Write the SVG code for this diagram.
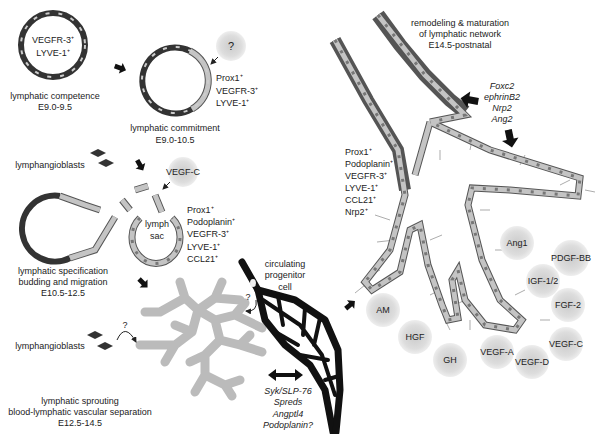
<svg xmlns="http://www.w3.org/2000/svg" xmlns:xlink="http://www.w3.org/1999/xlink" width="600" height="434" viewBox="0 0 600 434">
<style>
text{font-family:"Liberation Sans",Arial,sans-serif;font-size:9px;fill:#222}
.c{text-anchor:middle}
.i{font-style:italic}
.dk{fill:none;stroke:#333;stroke-width:6}
.dkd{fill:none;stroke:#ccc;stroke-width:2;stroke-dasharray:4 9}
.lt{fill:none;stroke:#555;stroke-width:7}
.lti{fill:none;stroke:#c4c4c4;stroke-width:5}
.ltd{fill:none;stroke:#777;stroke-width:3;stroke-dasharray:3 9}
.gr{fill:none;stroke:#bbb;stroke-width:9;stroke-linecap:round;stroke-linejoin:round}
.bk{fill:none;stroke:#111;stroke-width:7;stroke-linecap:round;stroke-linejoin:round}
.bk2{fill:none;stroke:#111;stroke-width:4;stroke-linecap:round;stroke-linejoin:round}
.hair{fill:none;stroke:#888;stroke-width:0.7}
.thin{fill:none;stroke:#222;stroke-width:1}
</style>
<defs>
<radialGradient id="g"><stop offset="0" stop-color="#ccc"/><stop offset="0.7" stop-color="#ddd"/><stop offset="1" stop-color="#eee"/></radialGradient>
<path id="arr" d="M-7,-3 L1,-3 L1,-7 L8,0 L1,7 L1,3 L-7,3 Z" fill="#111"/>
<path id="dia" d="M-8,0 L0,-4 L8,0 L0,4 Z" fill="#333"/>
<marker id="ah" markerWidth="6" markerHeight="6" refX="5" refY="3" orient="auto"><path d="M0,0 L6,3 L0,6 Z" fill="#222"/></marker>
</defs>
<rect width="600" height="434" fill="#fff"/>

<g id="competence">
<circle cx="53" cy="45" r="32" class="dk"/>
<circle cx="53" cy="45" r="32" class="dkd"/>
<text x="53" y="43" class="c">VEGFR-3⁺</text>
<text x="53" y="56" class="c">LYVE-1⁺</text>
<text x="55" y="99" class="c">lymphatic competence</text>
<text x="55" y="110" class="c">E9.0-9.5</text>
</g>
<use href="#arr" transform="translate(120,68) rotate(20) scale(0.8)"/>

<g id="commitment">
<path d="M190,51 A33,33 0 1 0 192,109" class="dk"/>
<path d="M190,51 A33,33 0 0 1 192,109" class="lt"/>
<path d="M190,51 A33,33 0 0 1 192,109" class="lti"/>
<circle cx="175" cy="80" r="33" class="dkd"/>
<circle cx="231" cy="46" r="15" fill="url(#g)"/>
<text x="231" y="50" class="c" style="font-size:11px">?</text>
<line x1="218" y1="57" x2="211" y2="64" class="thin" marker-end="url(#ah)"/>
<text x="216" y="81">Prox1⁺</text>
<text x="216" y="94">VEGFR-3⁺</text>
<text x="216" y="106">LYVE-1⁺</text>
<text x="175" y="131" class="c">lymphatic commitment</text>
<text x="175" y="143" class="c">E9.0-10.5</text>
</g>

<g id="specification">
<text x="50" y="168" class="c">lymphangioblasts</text>
<use href="#dia" transform="translate(98,153)"/>
<use href="#dia" transform="translate(106,163)"/>
<use href="#arr" transform="translate(140,165) rotate(60) scale(0.8)"/>
<circle cx="183" cy="172" r="15" fill="url(#g)"/>
<text x="183" y="175" class="c">VEGF-C</text>
<line x1="170" y1="182" x2="163" y2="189" class="thin" marker-end="url(#ah)"/>
<path d="M60,196 A33,33 0 1 0 70,258" class="dk"/>
<path d="M60,196 L85,205 L100,210" class="lt"/><path d="M60,196 L85,205 L100,210" class="lti"/>
<path d="M70,258 L95,250 L115,217" class="lt"/><path d="M70,258 L95,250 L115,217" class="lti"/>
<path d="M135,190 L148,186 M122,200 L130,210 M155,195 L162,212" class="lt"/>
<path d="M135,190 L148,186 M122,200 L130,210 M155,195 L162,212" class="lti"/>
<path d="M140,218 A24,26 0 1 0 172,218" class="lt"/>
<path d="M140,218 A24,26 0 1 0 172,218" class="lti"/>
<path d="M140,218 A24,26 0 1 0 172,218" class="ltd"/>
<text x="157" y="227" class="c">lymph</text>
<text x="157" y="239" class="c">sac</text>
<text x="187" y="213">Prox1⁺</text>
<text x="187" y="225">Podoplanin⁺</text>
<text x="187" y="237">VEGFR-3⁺</text>
<text x="187" y="250">LYVE-1⁺</text>
<text x="187" y="262">CCL21⁺</text>
<text x="63" y="274" class="c">lymphatic specification</text>
<text x="63" y="285" class="c">budding and migration</text>
<text x="63" y="296" class="c">E10.5-12.5</text>
<use href="#arr" transform="translate(143,283) rotate(45) scale(0.8)"/>
</g>

<g id="sprouting">
<path class="gr" d="M140,345 L175,345 L192,332 L198,310 L185,298 L180,282 M198,310 L215,298 L222,282 M215,298 L240,300 M198,310 L215,320 L235,315 L245,303 M215,320 L220,340 L205,355 L190,362 M220,340 L240,345 L262,352 M240,345 L250,335 M205,355 L205,375 L195,392 M205,375 L225,385 L232,396 M225,385 L240,380 M185,298 L160,312 L145,312 M175,345 L165,362 M192,332 L175,325 M235,315 L262,328"/>
<text x="50" y="349" class="c">lymphangioblasts</text>
<use href="#dia" transform="translate(95,335)"/>
<use href="#dia" transform="translate(105,346)"/>
<text x="125" y="328" class="c">?</text>
<path d="M117,340 Q125,322 136,342" class="thin" marker-end="url(#ah)"/>
<text x="80" y="404" class="c">lymphatic sprouting</text>
<text x="80" y="415" class="c">blood-lymphatic vascular separation</text>
<text x="80" y="426" class="c">E12.5-14.5</text>
</g>

<g id="blood">
<path class="bk" d="M242,262 L258,290 L265,320 L285,345 L310,365 L325,390 L333,432"/>
<path class="bk" d="M258,290 L295,300 L325,320 L338,350 L340,390 L336,432"/>
<path class="bk2" d="M263,300 L300,325 L322,355 L335,395 M278,296 L283,325 M305,308 L303,335 M272,330 L298,345 M320,318 L314,345 M300,355 L328,360 M325,380 L339,376"/>
<ellipse cx="253" cy="283" rx="3" ry="4" fill="#eee"/>
<text x="285" y="267" class="c">circulating</text>
<text x="285" y="278" class="c">progenitor</text>
<text x="285" y="290" class="c">cell</text>
<text x="248" y="300" class="c">?</text>
<path d="M256,300 Q258,312 246,311" class="thin" marker-end="url(#ah)"/>
<path d="M268,375 L276,369 L276,373 L295,373 L295,369 L303,375 L295,381 L295,377 L276,377 L276,381 Z" fill="#111"/>
<text x="288" y="394" class="c i">Syk/SLP-76</text>
<text x="288" y="405" class="c i">Spreds</text>
<text x="288" y="417" class="c i">Angptl4</text>
<text x="288" y="428" class="c i">Podoplanin?</text>
</g>
<use href="#arr" transform="translate(350,305) rotate(-40) scale(0.8)"/>

<g id="remodeling">
<path d="M335,40 L368,100 L398,150 L405,190" fill="none" stroke="#555" stroke-width="12"/>
<path d="M378,15 L400,45 L425,75 L450,100 L465,112" fill="none" stroke="#555" stroke-width="14"/>
<path class="hair" d="M390,220 l-15,-5 M395,240 l-18,2 M380,270 l-12,6 M365,285 l-10,8 M440,160 l0,-10 M470,150 l2,-10 M520,165 l5,-10 M560,185 l10,-5 M585,190 l10,2 M480,210 l10,0 M495,250 l10,0 M515,295 l10,-5 M465,300 l-10,5 M470,320 l0,10 M440,290 l-10,5 M430,240 l12,-5 M415,330 l-8,10 M445,320 l5,10 M540,320 l10,0"/>
<path class="lt" d="M335,40 L368,100 L398,150 L405,195 L390,250 L365,282 L372,290 L400,272 L410,230 L420,225 L428,265 L442,305 L448,320 L458,318 L452,280 L458,270 L465,300 L485,325 L515,330 L522,320 L500,300 L482,260 L468,205 L472,188 L510,190 L578,196 L580,178 L490,150 L430,122 M378,15 L425,75 L465,115 L430,122 M415,175 L430,122"/>
<path class="lti" d="M335,40 L368,100 L398,150 L405,195 L390,250 L365,282 L372,290 L400,272 L410,230 L420,225 L428,265 L442,305 L448,320 L458,318 L452,280 L458,270 L465,300 L485,325 L515,330 L522,320 L500,300 L482,260 L468,205 L472,188 L510,190 L578,196 L580,178 L490,150 L430,122 M378,15 L425,75 L465,115 L430,122 M415,175 L430,122"/>
<path class="ltd" d="M335,40 L368,100 L398,150 L405,195 L390,250 L365,282 L372,290 L400,272 L410,230 L420,225 L428,265 L442,305 L448,320 L458,318 L452,280 L458,270 L465,300 L485,325 L515,330 L522,320 L500,300 L482,260 L468,205 L472,188 L510,190 L578,196 L580,178 L490,150 L430,122 M378,15 L425,75 L465,115 L430,122"/>
<text x="460" y="26" class="c">remodeling &amp; maturation</text>
<text x="460" y="37" class="c">of lymphatic network</text>
<text x="460" y="48" class="c">E14.5-postnatal</text>
<text x="502" y="89" class="c i">Foxc2</text>
<text x="502" y="100" class="c i">ephrinB2</text>
<text x="502" y="111" class="c i">Nrp2</text>
<text x="502" y="122" class="c i">Ang2</text>
<use href="#arr" transform="translate(470,100) rotate(190) scale(1.2)"/>
<use href="#arr" transform="translate(510,138) rotate(78) scale(1.2)"/>
<text x="345" y="155">Prox1⁺</text>
<text x="345" y="167">Podoplanin⁺</text>
<text x="345" y="179">VEGFR-3⁺</text>
<text x="345" y="191">LYVE-1⁺</text>
<text x="345" y="203">CCL21⁺</text>
<text x="345" y="215">Nrp2⁺</text>
</g>

<g id="factors">
<circle cx="517" cy="243" r="17" fill="url(#g)"/><text x="517" y="246" class="c">Ang1</text>
<circle cx="571" cy="258" r="18" fill="url(#g)"/><text x="571" y="261" class="c">PDGF-BB</text>
<circle cx="543" cy="281" r="17" fill="url(#g)"/><text x="543" y="284" class="c">IGF-1/2</text>
<circle cx="568" cy="305" r="17" fill="url(#g)"/><text x="568" y="308" class="c">FGF-2</text>
<circle cx="566" cy="344" r="17" fill="url(#g)"/><text x="566" y="347" class="c">VEGF-C</text>
<circle cx="532" cy="362" r="17" fill="url(#g)"/><text x="532" y="365" class="c">VEGF-D</text>
<circle cx="497" cy="352" r="17" fill="url(#g)"/><text x="497" y="355" class="c">VEGF-A</text>
<circle cx="450" cy="360" r="17" fill="url(#g)"/><text x="450" y="363" class="c">GH</text>
<circle cx="415" cy="337" r="17" fill="url(#g)"/><text x="415" y="340" class="c">HGF</text>
<circle cx="383" cy="310" r="17" fill="url(#g)"/><text x="383" y="313" class="c">AM</text>
</g>
</svg>
